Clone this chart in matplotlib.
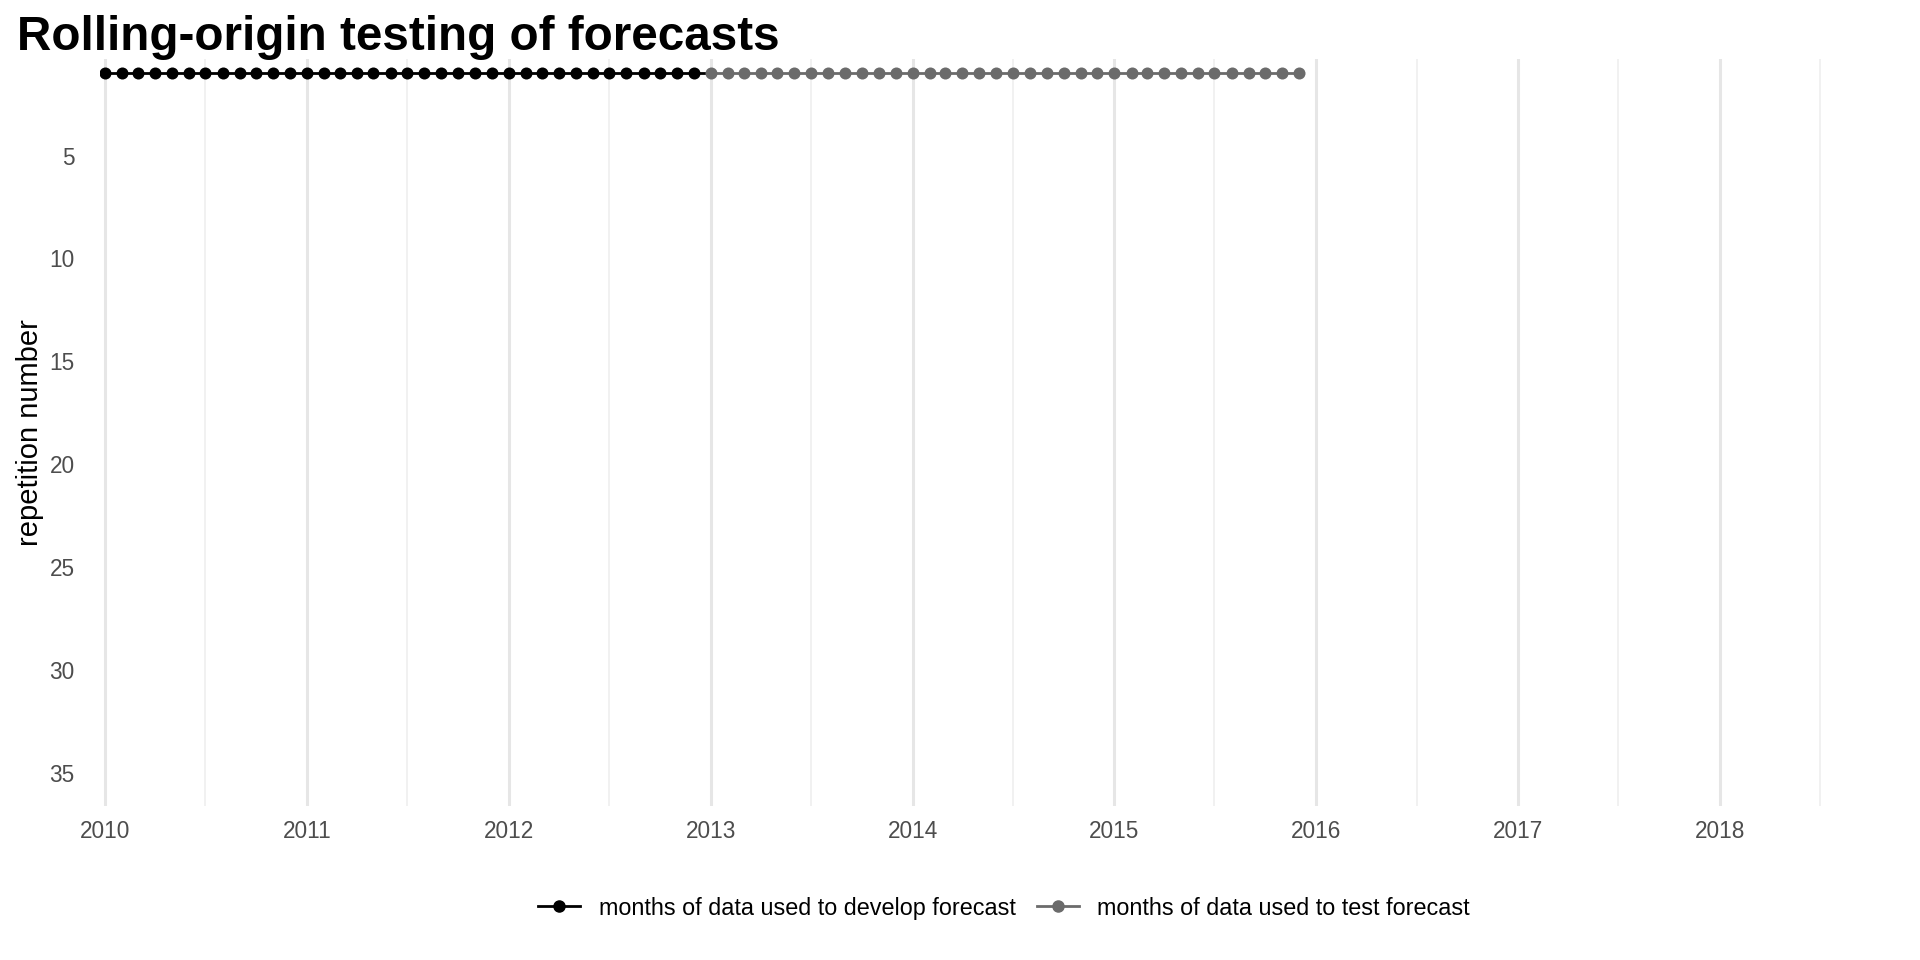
import numpy as np
import pandas as pd
import matplotlib as mpl
mpl.use('Agg')
import matplotlib.pyplot as plt
import matplotlib.dates as mdates

plt.rcParams['font.family'] = ['Liberation Sans', 'DejaVu Sans']

# data: repetition 1 of the rolling-origin scheme
repetition = 1
develop_start, develop_end = '2010-01-01', '2012-12-01'
test_start, test_end = '2013-01-01', '2015-12-01'
develop_label = 'months of data used to develop forecast'
test_label = 'months of data used to test forecast'
y_ticks = [5, 10, 15, 20, 25, 30, 35]
x_limits = ['2009-12-22', '2018-12-01']
y_limits = [36.62, 0.31]

develop_months = pd.date_range(develop_start, develop_end, freq='MS')
test_months = pd.date_range(test_start, test_end, freq='MS')

dev_color = '#000000'
test_color = '#6b6b6b'

fig = plt.figure(figsize=(19.2, 9.6), dpi=100)
ax = fig.add_axes([0.052, 0.1604, 0.940, 0.7781])

# the segment joining the two periods takes the colour of its starting point
dev_line_x = list(develop_months) + [test_months[0]]
ax.plot(dev_line_x, [repetition] * len(dev_line_x), color=dev_color, lw=2.0, zorder=3)
ax.plot(test_months, [repetition] * len(test_months), color=test_color, lw=2.0, zorder=3)
ax.scatter(develop_months, [repetition] * len(develop_months), s=75, color=dev_color, zorder=4, lw=0)
ax.scatter(test_months, [repetition] * len(test_months), s=75, color=test_color, zorder=4, lw=0)

ax.set_xlim(pd.Timestamp(x_limits[0]), pd.Timestamp(x_limits[1]))
ax.set_ylim(y_limits[0], y_limits[1])

ax.xaxis.set_major_locator(mdates.YearLocator())
ax.xaxis.set_major_formatter(mdates.DateFormatter('%Y'))
ax.xaxis.set_minor_locator(mdates.MonthLocator(bymonth=7))
ax.set_yticks(y_ticks)

ax.grid(axis='x', which='major', color='#e6e6e6', lw=2.2)
ax.grid(axis='x', which='minor', color='#ededed', lw=1.1)
ax.grid(axis='y', visible=False)
ax.set_axisbelow(True)
for s in ax.spines.values():
    s.set_visible(False)
ax.tick_params(axis='both', which='both', length=0, labelsize=16.3, labelcolor='#4d4d4d')
ax.tick_params(axis='x', pad=10)
ax.tick_params(axis='y', pad=18)
ax.set_ylabel('repetition number', fontsize=21, color='black', labelpad=4)

fig.text(0.009, 0.984, 'Rolling-origin testing of forecasts', fontsize=34.3,
         fontweight='bold', va='top', ha='left')

h1 = plt.Line2D([], [], color=dev_color, lw=2.0, marker='o', markersize=8)
h2 = plt.Line2D([], [], color=test_color, lw=2.0, marker='o', markersize=8)
fig.legend([h1, h2], [develop_label, test_label], loc='center',
           bbox_to_anchor=(0.523, 0.054), ncol=2, frameon=False, fontsize=16.8,
           handlelength=1.8, columnspacing=0.9, handletextpad=0.8)

fig.savefig('out.png', dpi=100)
plt.close()
